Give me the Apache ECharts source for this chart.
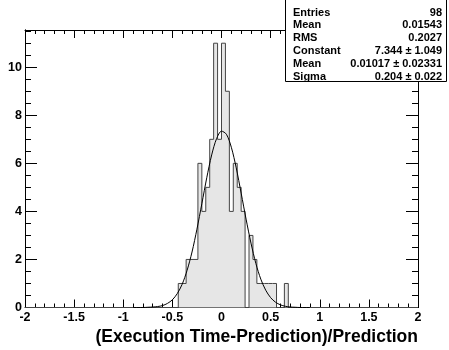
<!DOCTYPE html>
<html>
<head>
<meta charset="utf-8">
<script src="https://cdn.jsdelivr.net/npm/echarts@6/dist/echarts.min.js"></script>
<style>
  html, body { margin: 0; padding: 0; background: #fff; }
  #main { width: 449px; height: 350px; }
</style>
</head>
<body>
<div id="main"></div>
<script>
// histogram: 0.04 wide bins, first non-empty bin starts at -0.44
const binStart = -0.44
const binWidth = 0.04
const counts = [1, 1, 2, 2, 2, 6, 4, 5, 7, 11, 7, 11, 9, 4, 6, 5, 4, 0, 3, 2, 1, 1, 1, 1, 1, 0, 0, 1]

// gaussian fit curve
const fitX = [-0.9, -0.85, -0.8, -0.75, -0.7, -0.65, -0.6, -0.55, -0.5, -0.45, -0.4, -0.35, -0.3, -0.25, -0.2, -0.15, -0.1, -0.05,
  0, 0.05, 0.1, 0.15, 0.2, 0.25, 0.3, 0.35, 0.4, 0.45, 0.5, 0.55, 0.6, 0.65, 0.7, 0.75, 0.8, 0.85, 0.9]
const fitY = [0, 0, 0, 0.01, 0.02, 0.04, 0.08, 0.17, 0.32, 0.58, 0.97, 1.55, 2.31, 3.26, 4.32, 5.4, 6.35, 7.03,
  7.34, 7.21, 6.67, 5.81, 4.76, 3.68, 2.68, 1.83, 1.18, 0.72, 0.41, 0.22, 0.11, 0.05, 0.02, 0.01, 0, 0, 0]

const statNames = ['Entries', 'Mean', 'RMS', 'Constant', 'Mean', 'Sigma']
const statValues = ['98', '0.01543', '0.2027', '7.344 ± 1.049', '0.01017 ± 0.02331', '0.204 ± 0.022']

const xTitle = '(Execution Time-Prediction)/Prediction'

const font = '"Liberation Sans", Arial, Helvetica, sans-serif'

// step outline of the histogram
let histData = [[-2, 0]]
counts.forEach((c, i) => {
  histData.push([+(binStart + i * binWidth).toFixed(2), c])
})
histData.push([+(binStart + counts.length * binWidth).toFixed(2), 0])
histData.push([2, 0])

const fitData = fitX.map((x, i) => [x, fitY[i]])

function xAx (pos, labels) {
  return {
    type: 'value', position: pos, min: -2, max: 2, interval: 0.5,
    axisLine: { show: true, onZero: false, lineStyle: { color: '#000', width: 1 } },
    axisTick: { show: true, inside: true, length: 8, lineStyle: { color: '#000' } },
    minorTick: { show: true, splitNumber: 5, length: 4, lineStyle: { color: '#000' } },
    axisLabel: { show: labels, margin: 4, color: '#000', fontSize: 12.5, fontWeight: 'bold', fontFamily: font },
    splitLine: { show: false }, minorSplitLine: { show: false }
  }
}

function yAx (pos, step, len, labels) {
  return {
    type: 'value', position: pos, min: 0, max: 11.55, interval: step,
    axisLine: { show: true, onZero: false, lineStyle: { color: '#000', width: 1 } },
    axisTick: { show: true, inside: true, length: len, lineStyle: { color: '#000' } },
    axisLabel: {
      show: labels, margin: 3, color: '#000', fontSize: 12.5, fontWeight: 'bold', fontFamily: font,
      formatter: v => (v % 2 === 0 ? String(v) : '')
    },
    splitLine: { show: false }
  }
}

let graphics = [{
  type: 'rect', z: 100,
  shape: { x: 285.5, y: -1, width: 161, height: 82.5 },
  style: { fill: '#fff', stroke: '#000', lineWidth: 1 }
}]
statNames.forEach((n, i) => {
  let y = 12.5 + i * 12.8
  graphics.push({
    type: 'text', z: 101, x: 293, y: y,
    style: { text: n, font: 'bold 11px ' + font, fill: '#000', align: 'left', verticalAlign: 'middle' }
  })
  graphics.push({
    type: 'text', z: 101, x: 442, y: y,
    style: { text: statValues[i], font: 'bold 11px ' + font, fill: '#000', align: 'right', verticalAlign: 'middle' }
  })
})
graphics.push({
  type: 'text', z: 101, x: 418, y: 337,
  style: { text: xTitle, font: 'bold 17.5px ' + font, fill: '#000', align: 'right', verticalAlign: 'middle' }
})

const myChart = echarts.init(document.getElementById('main'), null, { renderer: 'canvas' })
myChart.setOption({
  animation: false,
  backgroundColor: '#fff',
  grid: { left: 25, right: 31, top: 30, bottom: 42.5, containLabel: false, outerBoundsMode: 'none' },
  xAxis: [xAx('bottom', true), xAx('top', false)],
  yAxis: [yAx('left', 2, 12, true), yAx('left', 0.5, 6, false), yAx('right', 2, 12, false), yAx('right', 0.5, 6, false)],
  series: [
    {
      name: 'hist', type: 'line', step: 'end', symbol: 'none',
      data: histData,
      lineStyle: { color: '#444', width: 1 },
      areaStyle: { color: '#e6e6e6', opacity: 1 }
    },
    {
      name: 'fit', type: 'line', smooth: 0.3, symbol: 'none',
      data: fitData,
      lineStyle: { color: '#000', width: 1 }
    }
  ],
  graphic: graphics
})
</script>
</body>
</html>
